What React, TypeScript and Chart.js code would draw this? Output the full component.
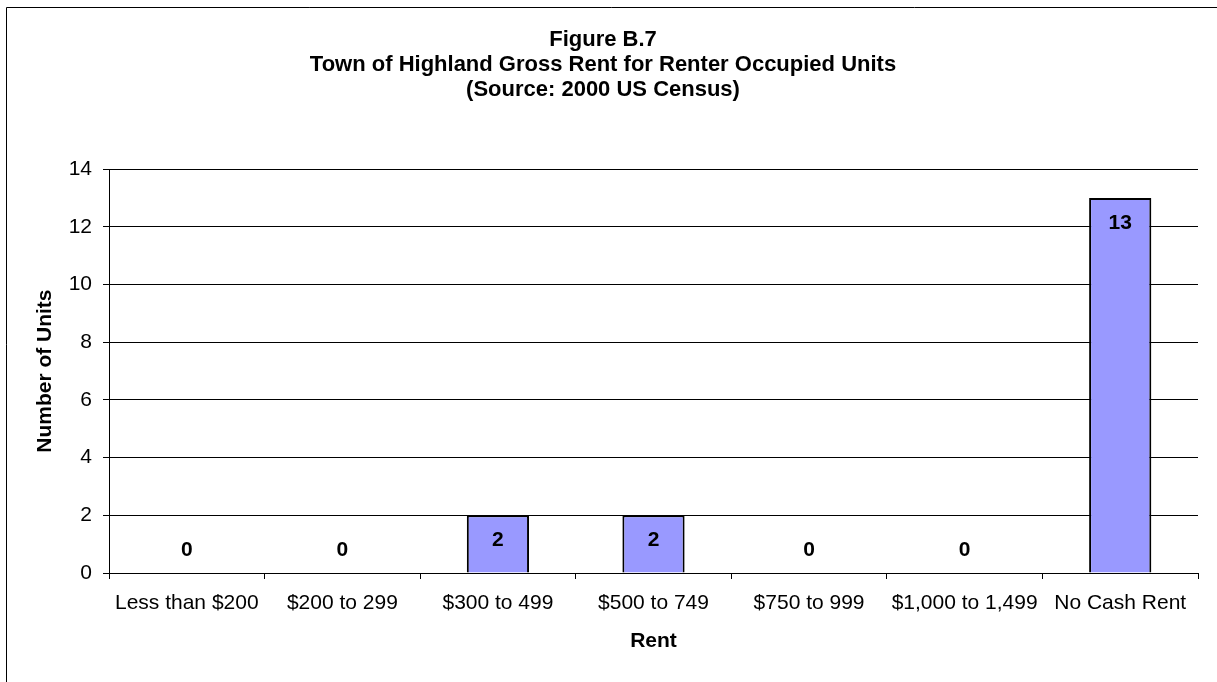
import React, { useEffect, useRef } from "react";
import { Chart, registerables } from "chart.js";

Chart.register(...registerables);

const titleLines = [
  "Figure B.7",
  "Town of Highland Gross Rent for Renter Occupied Units",
  "(Source: 2000 US Census)",
];
const categories = [
  "Less than $200",
  "$200 to 299",
  "$300 to 499",
  "$500 to 749",
  "$750 to 999",
  "$1,000 to 1,499",
  "No Cash Rent",
];
const units = [0, 0, 2, 2, 0, 0, 13];
const yAxisTitle = "Number of Units";
const xAxisTitle = "Rent";
const yMin = 0;
const yMax = 14;
const yStep = 2;

const FONT = "Arial, 'Liberation Sans', Helvetica, sans-serif";
const FS = 21;

const framePlugin = {
  id: "frame",
  afterDraw(chart: any) {
    const ctx = chart.ctx;
    ctx.save();
    ctx.strokeStyle = "#000";
    ctx.lineWidth = 1;
    ctx.beginPath();
    ctx.moveTo(6.5, chart.height);
    ctx.lineTo(6.5, 7.5);
    ctx.lineTo(chart.width, 7.5);
    ctx.stroke();
    ctx.restore();
  },
};

const labelPlugin = {
  id: "barLabels",
  afterDatasetsDraw(chart: any) {
    const ctx = chart.ctx;
    const meta = chart.getDatasetMeta(0);
    const data = chart.data.datasets[0].data as number[];
    ctx.save();
    ctx.font = `bold ${FS}px ${FONT}`;
    ctx.fillStyle = "#000";
    ctx.textAlign = "center";
    ctx.textBaseline = "middle";
    meta.data.forEach((bar: any, i: number) => {
      const v = data[i];
      const y = v > 0 ? bar.y + 25 : bar.base - 23;
      ctx.fillText(String(v), bar.x, y);
    });
    ctx.restore();
  },
};

export default function App() {
  const ref = useRef<HTMLCanvasElement>(null);

  useEffect(() => {
    if (!ref.current) return;
    const chart = new Chart(ref.current, {
      type: "bar",
      data: {
        labels: categories,
        datasets: [
          {
            data: units,
            backgroundColor: "#9999FF",
            borderColor: "#000",
            borderWidth: 2,
            barPercentage: 0.4,
            categoryPercentage: 1,
          },
        ],
      },
      options: {
        animation: false,
        responsive: false,
        layout: { padding: { left: 8, right: 19, top: 0, bottom: 0 } },
        plugins: {
          legend: { display: false },
          tooltip: { enabled: false },
          title: {
            display: true,
            text: titleLines,
            color: "#000",
            font: { family: FONT, size: 22, weight: "bold", lineHeight: 1.14 },
            padding: { top: 27, bottom: 67 },
          },
        },
        scales: {
          x: {
            offset: true,
            grid: {
              offset: true,
              drawOnChartArea: false,
              drawTicks: true,
              tickLength: 6,
              color: "#000",
            },
            border: { color: "#000", width: 1 },
            ticks: {
              color: "#000",
              font: { family: FONT, size: FS },
              padding: 12,
              maxRotation: 0,
              autoSkip: false,
            },
            title: {
              display: true,
              text: xAxisTitle,
              color: "#000",
              font: { family: FONT, size: FS, weight: "bold" },
              padding: { top: 0, bottom: 28 },
            },
            afterFit(scale: any) {
              scale.height = 109;
            },
          },
          y: {
            min: yMin,
            max: yMax,
            grid: {
              color: "#000",
              lineWidth: 1,
              tickLength: 6,
            },
            border: { color: "#000", width: 1 },
            ticks: {
              stepSize: yStep,
              color: "#000",
              font: { family: FONT, size: FS },
              padding: 11,
            },
            title: {
              display: true,
              text: yAxisTitle,
              color: "#000",
              font: { family: FONT, size: FS, weight: "bold" },
              padding: { top: 25, bottom: 0 },
            },
            afterFit(scale: any) {
              scale.width = 101;
            },
          },
        },
      },
      plugins: [labelPlugin, framePlugin],
    } as any);
    return () => chart.destroy();
  }, []);

  return (
    <div style={{ position: "fixed", left: 0, top: 0, width: 1217, height: 682, background: "#fff" }}>
      <canvas ref={ref} width={1217} height={682} style={{ display: "block", width: 1217, height: 682 }} />
    </div>
  );
}
